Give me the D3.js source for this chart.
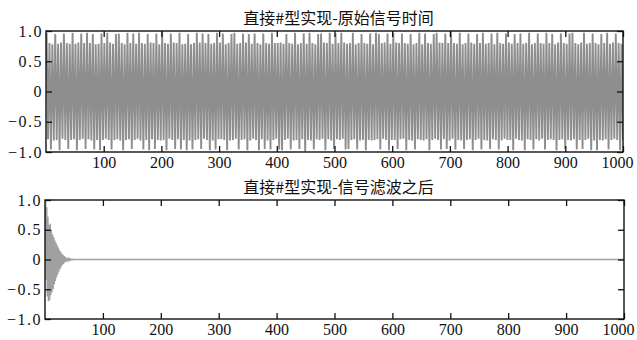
<!DOCTYPE html>
<html>
<head>
<meta charset="utf-8">
<script src="https://cdn.jsdelivr.net/npm/d3@7"></script>
<style>
  html, body { margin: 0; padding: 0; background: #fff; }
  svg { display: block; }
</style>
</head>
<body>
<svg id="chart" width="637" height="340"></svg>
<script>
// ---- data ----
const titles = ["直接#型实现-原始信号时间", "直接#型实现-信号滤波之后"];
const xTicks = [100, 200, 300, 400, 500, 600, 700, 800, 900, 1000];
const yTicks = [-1, -0.5, 0, 0.5, 1];
const yTickLabels = ["-1.0", "-0.5", "0", "0.5", "1.0"];
const sampleRange = [1, 1000];

// original signal, read as evenly spaced samples over n = 1..1000
const rawSignal = [
 .97,-.79,.80,-.96,.78,-.81,.95,-.80,.79,-.97,.81,-.78,.96,-.80,.80,-.95,.79,-.80,.97,-.79,
 .79,-.97,.81,-.80,.96,-.78,.80,-.95,.97,-.79,.80,-.81,.95,-.96,.78,-.80,.79,-.97,.96,-.80,
 .80,-.78,.97,-.80,.81,-.96,.79,-.80,.95,-.79,.96,-.81,.80,-.97,.78,-.80,.97,-.79,.80,-.95,
 .96,-.80,.79,-.78,.97,-.81,.80,-.96,.79,-.80,.95,-.97,.81,-.79,.80,-.95,.96,-.80,.78,-.81,
 .99,-.80,.80,-.97,.79,-.78,.96,-.80,.81,-.95,.80,-.79,.97,-.96,.78,-.80,.79,-.97,.95,-.81,
 .78,-.96,.80,-.80,.97,-.79,.81,-.95,.96,-.78,.80,-.80,.95,-.97,.79,-.81,.80,-.96,.97,-.79,
 .81,-.79,.96,-.80,.78,-.97,.80,-.81,.95,-.80,.97,-.78,.79,-.96,.80,-.80,.96,-.79,.81,-.97,
 .95,-.81,.79,-.78,.96,-.80,.80,-.97,.78,-.79,.96,-.95,.80,-.81,.79,-.96,.97,-.80,.80,-.78,
 .80,-.96,.81,-.97,.79,-.80,.95,-.78,.80,-.96,.79,-.81,.97,-.80,.78,-.95,.80,-.79,.96,-.99,
 .79,-.80,.97,-.81,.80,-.96,.78,-.79,.95,-.80,.96,-.78,.81,-.97,.80,-.79,.97,-.81,.79,-.95,
 .96,-.79,.80,-.80,.97,-.78,.81,-.96,.79,-.95,.80,-.80,.97,-.79,.78,-.96,.80,-.81,.95,-.80,
 .80,-.97,.79,-.80,.96,-.81,.78,-.80,.97,-.79,.95,-.96,.80,-.78,.81,-.80,.96,-.97,.79,-.80,
 .97,-.80,.81,-.95,.80,-.79,.96,-.78,.80,-.97,.79,-.80,.95,-.81,.78,-.96,.80,-.79,.97,-.80,
 .78,-.81,.96,-.79,.80,-.97,.79,-.80,.95,-.78,.97,-.80,.81,-.96,.80,-.79,.96,-.95,.80,-.81,
 .99,-.78,.80,-.96,.79,-.80,.97,-.81,.78,-.95,.80,-.80,.96,-.79,.81,-.97,.79,-.80,.95,-.78,
 .80,-.96,.97,-.80,.79,-.81,.80,-.95,.96,-.79,.78,-.80,.97,-.96,.80,-.81,.79,-.78,.96,-.80,
 .81,-.80,.79,-.97,.95,-.78,.80,-.80,.96,-.81,.79,-.97,.80,-.79,.97,-.80,.78,-.96,.80,-.79,
 .96,-.81,.80,-.78,.79,-.96,.97,-.80,.80,-.79,.95,-.80,.78,-.97,.81,-.80,.96,-.79,.80,-.95,
 .79,-.80,.96,-.81,.97,-.79,.80,-.96,.78,-.80,.81,-.95,.97,-.80,.79,-.78,.80,-.97,.96,-.81,
 .80,-.97,.78,-.80,.95,-.81,.80,-.79,.97,-.96,.79,-.80,.81,-.78,.96,-.80,.80,-.97,.79,-.80
];

// filtered signal: first samples n = 1..50 (decaying transient), then flat tail
const filteredHead = [
 1.0,-.35,.88,-.62,.72,-.70,.58,-.68,.60,-.60,.50,-.55,.42,-.50,.38,-.42,.32,-.36,.28,-.30,
 .24,-.25,.20,-.20,.16,-.16,.13,-.12,.10,-.09,.08,-.07,.06,-.05,.045,-.04,.03,-.025,.02,-.015,
 .012,-.01,.008,-.006,.005,-.004,.003,-.002,.001,0
];
const filteredTailN = [60, 1000];
const filteredTailY = [0, 0];

// ---- drawing ----
const svg = d3.select("#chart");
svg.append("rect").attr("width", 637).attr("height", 340).attr("fill", "#fff");

const panels = [
  { title: titles[0], x0: 46, x1: 623, y0: 31, y1: 152, titleY: 24,
    color: "#8e8e8e", width: 1.9,
    points: rawSignal.map((v, i) => [sampleRange[0] + i * (sampleRange[1] - sampleRange[0]) / (rawSignal.length - 1), v]) },
  { title: titles[1], x0: 45, x1: 624, y0: 200, y1: 319, titleY: 193,
    color: "#a0a0a0", width: 1.5,
    points: filteredHead.map((v, i) => [i + 1, v]).concat(filteredTailN.map((n, i) => [n, filteredTailY[i]])) }
];

const fmt = d => yTickLabels[yTicks.indexOf(d)].replace("-", "\u2212");

panels.forEach((p, k) => {
  const x = d3.scaleLinear().domain([0, 1000]).range([p.x0, p.x1]);
  const y = d3.scaleLinear().domain([-1, 1]).range([p.y1, p.y0]);
  const g = svg.append("g");

  const clipId = "clip" + k;
  svg.append("clipPath").attr("id", clipId)
    .append("rect").attr("x", p.x0).attr("y", p.y0).attr("width", p.x1 - p.x0).attr("height", p.y1 - p.y0);

  g.append("path")
    .datum(p.points)
    .attr("clip-path", `url(#${clipId})`)
    .attr("fill", "none")
    .attr("stroke", p.color)
    .attr("stroke-width", p.width)
    .attr("stroke-linejoin", "miter")
    .attr("d", d3.line().x(d => x(d[0])).y(d => y(d[1])));

  const tickStyle = sel => {
    sel.select(".domain").remove();
    sel.selectAll(".tick line").attr("stroke", "#111").attr("stroke-width", 1.3);
    sel.selectAll(".tick text").attr("fill", "#111")
      .style("font-family", "'Liberation Serif', 'DejaVu Serif', serif")
      .style("font-size", "16px");
  };

  const bx = g.append("g").attr("transform", `translate(0,${p.y1})`)
    .call(d3.axisBottom(x).tickValues(xTicks).tickSizeInner(-6).tickSizeOuter(0).tickPadding(5).tickFormat(d3.format("d")))
    .call(tickStyle);
  bx.selectAll(".tick text").filter(d => d === 1000).attr("dx", -6);
  g.append("g").attr("transform", `translate(0,${p.y0})`)
    .call(d3.axisTop(x).tickValues(xTicks).tickSizeInner(-6).tickSizeOuter(0).tickFormat(""))
    .call(tickStyle);
  const ly = g.append("g").attr("transform", `translate(${p.x0},0)`)
    .call(d3.axisLeft(y).tickValues(yTicks).tickSizeInner(-6).tickSizeOuter(0).tickPadding(3).tickFormat(fmt))
    .call(tickStyle);
  ly.selectAll(".tick text").style("letter-spacing", "1.5px");
  g.append("g").attr("transform", `translate(${p.x1},0)`)
    .call(d3.axisRight(y).tickValues(yTicks).tickSizeInner(-6).tickSizeOuter(0).tickFormat(""))
    .call(tickStyle);

  g.append("rect")
    .attr("x", p.x0).attr("y", p.y0)
    .attr("width", p.x1 - p.x0).attr("height", p.y1 - p.y0)
    .attr("fill", "none").attr("stroke", "#111").attr("stroke-width", 1.4);

  svg.append("text")
    .attr("x", (p.x0 + p.x1) / 2 + 4).attr("y", p.titleY)
    .attr("text-anchor", "middle")
    .style("font-family", "'Noto Sans CJK SC', sans-serif")
    .style("font-size", "16px")
    .attr("fill", "#111")
    .text(p.title);
});
</script>
</body>
</html>
